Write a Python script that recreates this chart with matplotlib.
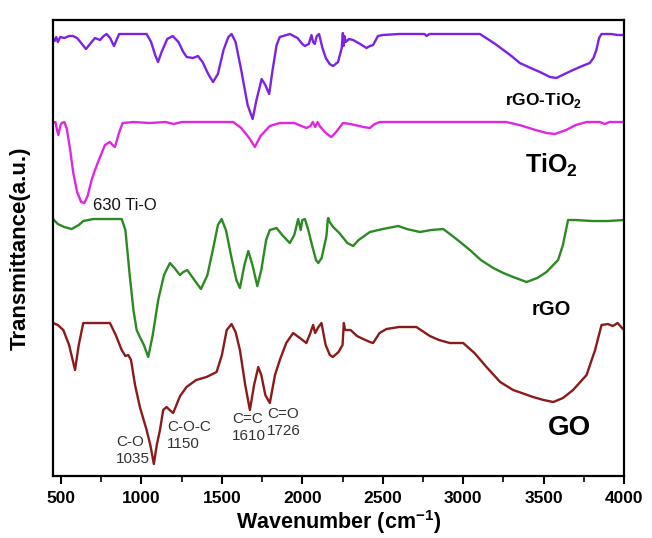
import matplotlib.pyplot as plt
from matplotlib.ticker import MultipleLocator

plt.rcParams['font.family'] = ['Liberation Sans', 'DejaVu Sans']
plt.rcParams['mathtext.fontset'] = 'custom'
plt.rcParams['mathtext.rm'] = 'Liberation Sans'
plt.rcParams['mathtext.bf'] = 'Liberation Sans:bold'

# FTIR spectra, wavenumber (cm-1) and relative transmittance (a.u.)
wn_rgo_tio2 = [450, 460, 470, 480, 495, 520, 550, 574, 600, 630, 655, 680, 711, 742, 765, 783,
               805, 829, 845, 861, 950, 1032, 1060, 1085, 1103, 1125, 1160, 1194, 1230, 1260,
               1281, 1320, 1351, 1380, 1415, 1445, 1475, 1510, 1540, 1560, 1585, 1620, 1660,
               1691, 1715, 1747, 1770, 1794, 1815, 1840, 1860, 1922, 1970, 2000, 2015, 2040,
               2057, 2067, 2077, 2090, 2104, 2125, 2146, 2170, 2191, 2222, 2245, 2252, 2256,
               2262, 2270, 2290, 2316, 2360, 2399, 2420, 2440, 2470, 2500, 2600, 2700, 2760,
               2772, 2790, 2900, 3000, 3104, 3200, 3300, 3352, 3420, 3477, 3540, 3580, 3630,
               3683, 3740, 3787, 3810, 3828, 3845, 3860, 3920, 3960, 4000]
t_rgo_tio2 = [96, 93, 97, 92, 97, 96, 98, 98, 96, 90, 85, 90, 96, 94, 98, 100,
              96, 88, 94, 100, 100, 100, 92, 79, 72, 82, 95, 98, 92, 82,
              77, 76, 78, 72, 60, 52, 60, 84, 97, 100, 92, 64, 29,
              15, 34, 55, 49, 40, 64, 89, 97, 100, 96, 90, 88, 90,
              99, 92, 90, 98, 100, 86, 76, 70, 68, 72, 86, 101, 88,
              98, 92, 95, 94, 90, 86, 88, 89, 98, 99, 100, 100, 100,
              98, 100, 100, 100, 100, 90, 78, 71, 66, 62, 57, 56, 60,
              64, 68, 71, 76, 84, 96, 100, 100, 99, 99]

wn_tio2 = [450, 465, 475, 483, 495, 504, 520, 535, 555, 576, 600, 625, 645, 665, 690, 711,
           740, 773, 804, 820, 835, 860, 883, 950, 1050, 1150, 1200, 1250, 1400, 1500, 1570,
           1620, 1670, 1705, 1740, 1798, 1860, 1950, 2025, 2050, 2065, 2080, 2095, 2108,
           2140, 2170, 2181, 2210, 2253, 2300, 2380, 2420, 2450, 2482, 2600, 2800, 3000,
           3268, 3350, 3450, 3520, 3570, 3640, 3700, 3767, 3850, 3880, 3910, 4000]
t_tio2 = [99, 100, 92, 87, 96, 99, 100, 94, 74, 49, 30, 20, 19, 26, 42, 52,
          64, 77, 80, 77, 75, 89, 99, 100, 99, 100, 98, 100, 100, 100, 100,
          94, 84, 75, 86, 96, 99, 99, 94, 96, 100, 95, 100, 96,
          90, 86, 85, 90, 99, 98, 95, 94, 98, 100, 100, 100, 100,
          100, 97, 92, 89, 88, 92, 97, 100, 100, 98, 100, 100]

wn_rgo = [450, 480, 520, 566, 610, 638, 700, 800, 877, 900, 928, 950, 970, 990, 1015, 1042,
          1070, 1104, 1140, 1177, 1205, 1239, 1260, 1284, 1320, 1370, 1410, 1450, 1475,
          1498, 1525, 1560, 1590, 1612, 1640, 1664, 1690, 1720, 1745, 1775, 1798, 1840,
          1880, 1922, 1950, 1974, 1990, 2000, 2016, 2037, 2060, 2085, 2099, 2120, 2150,
          2158, 2161, 2170, 2192, 2230, 2280, 2316, 2350, 2420, 2500, 2596, 2650, 2731,
          2800, 2876, 2950, 3042, 3110, 3187, 3250, 3311, 3394, 3460, 3518, 3560, 3590,
          3620, 3652, 3700, 3800, 3900, 4000]
t_rgo = [100, 95, 92, 90, 94, 98, 100, 100, 100, 89, 42, 9, -11, -18, -26, -38,
         -16, 19, 44, 56, 51, 44, 47, 49, 41, 30, 44, 74, 94,
         100, 89, 61, 39, 31, 54, 68, 54, 33, 49, 79, 89, 91,
         83, 76, 84, 100, 89, 99, 100, 89, 74, 59, 56, 61, 83,
         99, 101, 97, 92, 86, 76, 73, 79, 87, 90, 93, 90, 87,
         89, 90, 81, 69, 59, 51, 46, 42, 37, 41, 47, 54, 59,
         74, 99, 99, 98, 98, 99]

wn_go = [450, 480, 514, 550, 587, 610, 638, 700, 804, 840, 877, 900, 918, 935, 960, 990,
         1032, 1055, 1077, 1095, 1115, 1135, 1156, 1175, 1197, 1240, 1280, 1340, 1404,
         1467, 1500, 1530, 1560, 1585, 1612, 1645, 1674, 1700, 1726, 1745, 1770, 1798,
         1830, 1860, 1900, 1943, 1985, 2025, 2050, 2067, 2080, 2100, 2119, 2145, 2171,
         2190, 2225, 2250, 2258, 2266, 2300, 2340, 2378, 2420, 2440, 2480, 2523, 2600,
         2709, 2793, 2850, 2917, 3000, 3070, 3145, 3230, 3311, 3435, 3500, 3560, 3620,
         3683, 3767, 3820, 3860, 3900, 3930, 3960, 4000]
t_go = [100, 98, 93, 78, 53, 78, 100, 100, 100, 88, 73, 67, 68, 63, 38, 16,
        -7, -22, -41, -22, -7, 13, 16, 13, 10, 27, 36, 43, 46,
        51, 68, 93, 99, 91, 73, 38, 13, 38, 56, 48, 28, 20,
        48, 63, 80, 90, 85, 80, 90, 98, 90, 96, 100, 78, 68,
        66, 71, 78, 100, 93, 93, 87, 84, 81, 80, 90, 94, 96,
        96, 87, 83, 80, 80, 70, 56, 41, 33, 26, 23, 21, 25,
        33, 48, 73, 98, 99, 97, 100, 93]

# vertical shift of each trace in the stack
offsets = {'rGO-TiO2': 342, 'TiO2': 254, 'rGO': 157, 'GO': 53}

fig = plt.figure(figsize=(6.52, 5.38), dpi=100)
ax = fig.add_axes([0.0813, 0.1152, 0.8758, 0.8476])

ax.plot(wn_rgo_tio2, [v + offsets['rGO-TiO2'] for v in t_rgo_tio2], color='#7B22E6', lw=1.7)
ax.plot(wn_tio2, [v + offsets['TiO2'] for v in t_tio2], color='#E026E0', lw=1.7)
ax.plot(wn_rgo, [v + offsets['rGO'] for v in t_rgo], color='#2B8A22', lw=1.7)
ax.plot(wn_go, [v + offsets['GO'] for v in t_go], color='#8B1A1A', lw=1.7)

ax.set_xlim(450, 4000)
ax.set_ylim(0, 456)
ax.xaxis.set_major_locator(MultipleLocator(500))
ax.xaxis.set_minor_locator(MultipleLocator(250))
ax.tick_params(axis='x', which='major', direction='out', length=6, width=1.5,
               labelsize=12.5, pad=5)
ax.tick_params(axis='x', which='minor', direction='out', length=4, width=1.2)
ax.set_yticks([])
for lbl in ax.get_xticklabels():
    lbl.set_fontweight('bold')
for sp in ax.spines.values():
    sp.set_linewidth(1.6)

ax.set_xlabel(r'Wavenumber (cm$^{\mathbf{-1}}$)', fontsize=15.5, fontweight='bold', labelpad=1)
ax.set_ylabel('Transmittance(a.u.)', fontsize=16, fontweight='bold', labelpad=16)

# sample names
ax.text(3257, 371, r'rGO-TiO$_\mathbf{2}$', fontsize=12.5, fontweight='bold', va='baseline')
ax.text(3382, 303, r'TiO$_\mathbf{2}$', fontsize=18, fontweight='bold', va='baseline')
ax.text(3425, 161, 'rGO', fontsize=14.5, fontweight='bold', va='baseline')
ax.text(3524, 41, 'GO', fontsize=20, fontweight='bold', va='baseline')

# band assignments
ax.text(698, 266, '630 Ti-O', fontsize=12, color='#111111', va='baseline')
peak_labels = [(841, 'C-O\n1035', 41), (1158, 'C-O-C\n1150', 56),
               (1562, 'C=C\n1610', 64), (1779, 'C=O\n1726', 69)]
for x, txt, y in peak_labels:
    ax.text(x, y, txt, fontsize=11, color='#333333', va='top', ha='left', linespacing=1.3)

fig.savefig('out.png', dpi=100)
